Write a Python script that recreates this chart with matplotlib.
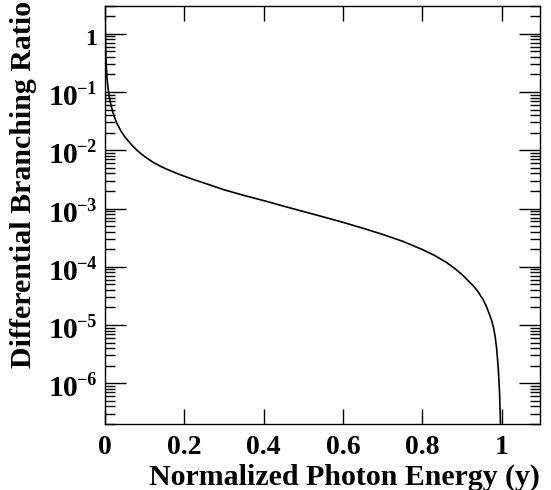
import numpy as np
import matplotlib.pyplot as plt
from matplotlib.ticker import FixedLocator, LogLocator, NullFormatter, NullLocator

plt.rcParams['font.family'] = ['Liberation Serif', 'DejaVu Serif']
plt.rcParams['font.weight'] = 'bold'

# photon energy fraction y and differential branching ratio
y_energy = [0.0003, 0.0005, 0.001, 0.002, 0.003, 0.005, 0.0075, 0.01, 0.0126, 0.016,
            0.02, 0.025, 0.03, 0.04, 0.05, 0.06, 0.07, 0.08, 0.09, 0.10,
            0.12, 0.14, 0.16, 0.19, 0.22, 0.26, 0.30, 0.35, 0.40, 0.45,
            0.50, 0.55, 0.60, 0.65, 0.70, 0.75, 0.80, 0.83, 0.86, 0.88,
            0.90, 0.92, 0.93, 0.94, 0.954, 0.963, 0.97, 0.975, 0.98, 0.984,
            0.988, 0.992, 0.995, 0.997, 0.998]
dbr = [2.8, 1.7, 0.85, 0.43, 0.29, 0.175, 0.118, 0.089, 0.071, 0.056,
       0.045, 0.035, 0.029, 0.0215, 0.0170, 0.0141, 0.0118, 0.0101, 0.0088, 0.0078,
       0.0063, 0.0053, 0.0046, 0.0038, 0.0032, 0.0026, 0.0021, 0.00168, 0.00137, 0.00110,
       8.9e-4, 7.2e-4, 5.8e-4, 4.6e-4, 3.6e-4, 2.75e-4, 1.98e-4, 1.58e-4, 1.2e-4, 9.6e-5,
       7.4e-5, 5.4e-5, 4.6e-5, 3.8e-5, 2.7e-5, 2.0e-5, 1.5e-5, 1.2e-5, 8.9e-6, 6.3e-6,
       3.8e-6, 1.7e-6, 7e-7, 2.5e-7, 1e-7]

xticks = [0, 0.2, 0.4, 0.6, 0.8, 1]
xticklabels = ['0', '0.2', '0.4', '0.6', '0.8', '1']
yticks = [1, 1e-1, 1e-2, 1e-3, 1e-4, 1e-5, 1e-6]
yexponents = [0, -1, -2, -3, -4, -5, -6]

fig = plt.figure(figsize=(5.51, 4.9), dpi=100)
ax = fig.add_axes([0.1906, 0.1347, 0.7894, 0.8531])

ax.plot(y_energy, dbr, color='black', lw=1.2)

ax.set_yscale('log')
ax.set_xlim(0, 1.097)
ax.set_ylim(2.0e-7, 3.0)

ax.xaxis.set_major_locator(FixedLocator(xticks))
ax.set_xticklabels(xticklabels)
ax.xaxis.set_minor_locator(NullLocator())
ax.yaxis.set_major_locator(FixedLocator(yticks))
ax.yaxis.set_major_formatter(NullFormatter())
ax.yaxis.set_minor_locator(LogLocator(base=10, subs=np.arange(2, 10), numticks=20))
ax.yaxis.set_minor_formatter(NullFormatter())

ax.tick_params(axis='x', which='major', direction='in', length=11, width=1,
               top=True, labelsize=20, pad=8)
ax.tick_params(axis='y', which='major', direction='in', length=15, width=1, right=True)
ax.tick_params(axis='y', which='minor', direction='in', length=7, width=1, right=True)
for sp in ax.spines.values():
    sp.set_linewidth(1)

# y tick labels: "1", then 10 with a small raised exponent
for val, ex in zip(yticks, yexponents):
    if ex == 0:
        ax.annotate('1', xy=(0, val), xycoords=('axes fraction', 'data'),
                    xytext=(-8, -11), textcoords='offset pixels',
                    ha='right', va='baseline', fontsize=17, fontweight='bold')
        continue
    ax.annotate('10', xy=(0, val), xycoords=('axes fraction', 'data'),
                xytext=(-27, -13), textcoords='offset pixels',
                ha='right', va='baseline', fontsize=21.5, fontweight='bold')
    ax.annotate('\u2212' + str(-ex), xy=(0, val), xycoords=('axes fraction', 'data'),
                xytext=(-28.5, -2), textcoords='offset pixels',
                ha='left', va='baseline', fontsize=13, fontweight='bold')

ax.set_xlabel('Normalized Photon Energy (y)', fontsize=21.5, fontweight='bold',
              ha='right', x=1.0, labelpad=2.5)
ax.set_ylabel('Differential Branching Ratio', fontsize=21.5, fontweight='bold',
              ha='right', labelpad=0)
ax.yaxis.set_label_coords(-0.157, 1.012)

fig.savefig('out.png', dpi=100)
